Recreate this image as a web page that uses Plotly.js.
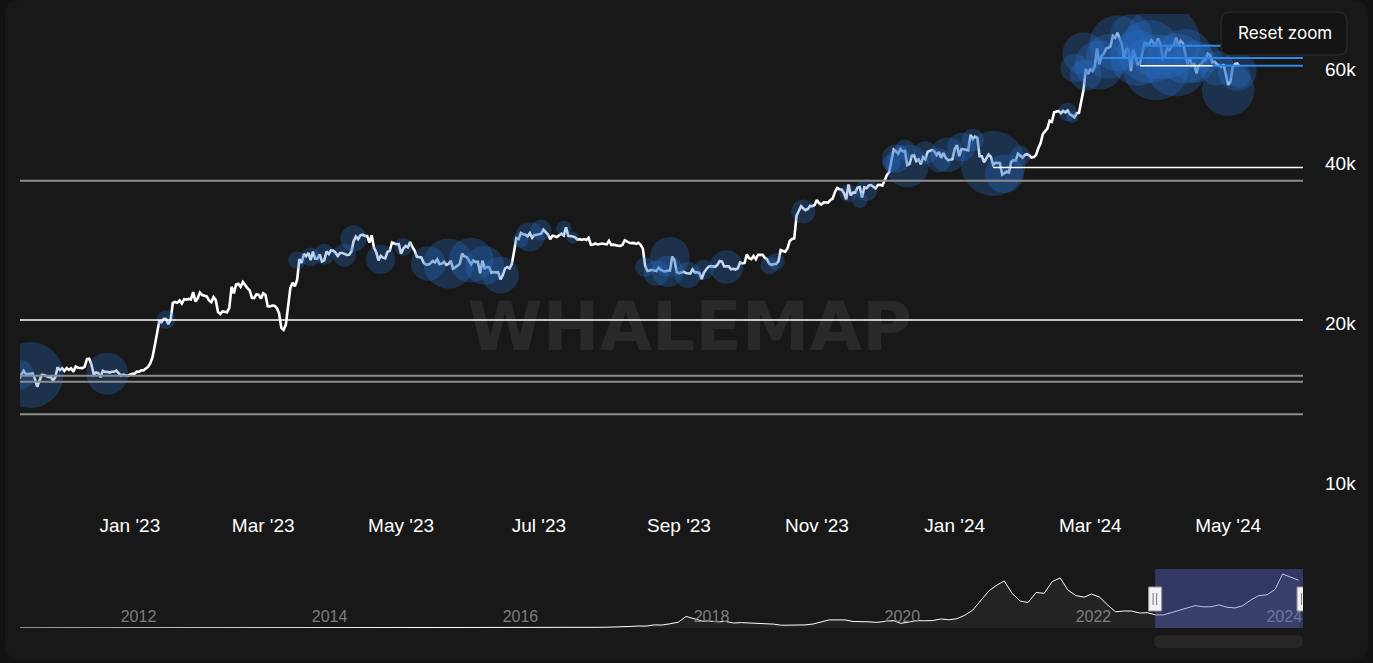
<!DOCTYPE html>
<html><head><meta charset="utf-8">
<script src="https://cdn.plot.ly/plotly-3.0.1.min.js"></script>
<style>html,body{margin:0;padding:0;background:#121212;overflow:hidden}#chart{width:1373px;height:663px}</style>
</head><body><div id="chart"></div>
<script>
// ---- Daily BTC price (thousand USD), first value = 2022-11-12 ----
const priceStart = '2022-11-12';
const nov22 = [16.80,16.33,16.62,16.90,16.66,16.69,16.70,16.71,16.29,15.78,16.19,16.61,16.60,16.52,16.46,16.44,16.22,16.44,17.17];
const dec22 = [16.97,17.09,16.89,17.11,16.97,17.09,16.84,17.22,17.13,17.13,17.10,17.21,17.78,17.81,17.36,16.63,16.78,16.74,16.44,16.90,16.82,16.83,16.78,16.84,16.84,16.92,16.70,16.55,16.63,16.60,16.55];
const jan23 = [16.62,16.69,16.68,16.85,16.83,16.95,16.94,17.09,17.19,17.45,17.94,18.85,19.93,20.95,20.87,21.17,21.16,20.69,21.08,22.68,22.78,22.71,22.93,22.63,23.06,23.01,23.08,23.03,23.77,22.84,23.14];
const feb23 = [23.72,23.47,23.43,23.33,22.94,22.76,23.26,22.96,21.80,21.63,21.86,21.79,21.79,22.20,24.33,23.64,24.57,24.64,24.33,24.83,24.44,24.19,23.95,23.20,23.17,23.55,23.49,23.13];
const mar23 = [23.65,23.47,22.36,22.35,22.43,22.41,22.20,21.70,20.36,20.19,20.63,22.16,24.20,24.75,24.38,25.05,27.42,26.97,28.04,27.77,28.18,27.30,28.33,27.49,27.49,27.99,27.14,27.27,28.35,28.03,28.48];
const apr23 = [28.45,28.20,27.80,28.17,28.17,28.04,27.92,27.95,28.33,29.65,30.24,29.90,30.40,30.49,30.32,30.32,29.45,30.40,28.82,28.25,27.28,27.82,27.60,27.52,28.31,28.42,29.47,29.34,29.25,29.27];
const may23 = [28.09,28.68,29.03,28.85,29.53,28.90,28.45,27.70,27.65,27.63,27.00,26.80,26.78,26.93,27.20,27.03,27.40,26.83,26.89,27.10,26.75,26.85,27.23,26.33,26.47,26.72,26.87,28.09,27.75,27.70,27.22];
const jun23 = [26.82,27.25,27.07,27.12,25.76,27.24,26.35,26.50,26.48,25.84,25.94,25.90,25.92,25.12,25.58,26.33,26.51,26.34,26.85,28.33,30.03,29.91,30.70,30.55,30.47,30.27,30.70,30.08,30.45,30.48];
const jul23 = [30.59,30.62,31.16,30.77,30.51,29.90,30.35,30.29,30.17,30.41,30.62,30.39,31.48,30.33,30.30,30.25,30.14,29.86,29.91,29.80,29.91,29.80,30.08,29.18,29.23,29.35,29.22,29.31,29.35,29.28,29.23];
const aug23 = [29.70,29.18,29.20,29.08,29.06,29.05,29.18,29.77,29.58,29.44,29.40,29.42,29.30,29.43,29.17,28.70,26.66,26.05,26.10,26.19,26.12,26.04,26.43,26.16,26.05,26.00,26.09,26.10,27.73,27.30,25.93];
const sep23 = [25.80,25.87,25.97,25.83,25.78,25.75,26.24,25.90,25.90,25.84,25.16,25.84,26.23,26.53,26.60,26.57,26.53,26.76,27.20,27.13,26.57,26.58,26.58,26.25,26.30,26.22,26.35,27.02,26.91,26.97];
const oct23 = [27.98,27.53,27.43,27.79,27.41,27.95,27.97,27.94,27.58,27.39,26.87,26.76,26.86,26.86,27.16,28.52,28.42,28.33,28.72,29.68,29.92,29.99,33.09,33.90,34.50,34.15,33.90,34.09,34.54,34.50,34.67];
const nov23 = [35.44,34.94,34.73,35.08,35.05,35.04,35.43,35.65,36.69,37.31,37.13,37.06,36.50,35.54,37.88,36.15,36.60,36.58,37.39,37.47,35.81,37.43,37.29,37.72,37.80,37.48,37.25,37.83,37.86,37.71];
const dec23 = [38.69,39.47,39.98,41.98,44.08,43.77,43.29,44.17,43.72,43.79,41.24,41.45,42.89,43.02,41.94,42.26,41.36,42.66,42.26,43.65,43.86,43.99,43.74,43.02,43.61,42.52,43.44,42.58,42.07,42.14,42.28];
const jan24 = [44.18,44.96,42.85,44.18,44.16,43.97,43.93,46.97,46.12,46.63,46.37,42.85,42.84,41.73,42.50,43.15,42.74,41.26,41.62,41.66,41.58,39.57,39.90,40.08,39.93,41.82,42.12,42.03,43.30,42.94,42.58];
const feb24 = [43.08,43.20,43.00,42.58,42.66,43.08,44.32,45.30,47.15,47.77,48.29,49.96,49.70,51.80,51.90,52.10,51.60,52.10,51.80,52.20,51.30,51.10,50.70,51.60,51.70,54.50,57.10,62.50,61.20];
const mar24 = [62.40,62.00,63.20,68.30,63.80,66.10,66.90,68.30,68.50,69.00,72.10,71.50,73.10,71.40,69.50,65.30,68.40,67.60,61.90,67.90,65.50,63.80,64.00,67.20,70.00,69.90,69.50,70.80,69.90,69.60,71.30];
const apr24 = [69.70,65.50,66.00,68.50,67.80,68.90,69.40,71.60,69.10,70.60,70.00,67.10,63.80,65.70,63.40,63.80,61.30,63.50,63.80,64.90,64.90,66.80,66.40,64.30,64.50,63.80,63.40,63.10,63.80,60.60];
const may24 = [58.30,59.10,62.90,63.90,64.00,63.20];

// ---- Whale bubbles: date, price (k USD), volume ----
const bubbleDates = ['2022-11-13','2022-11-18','2022-12-22','2023-01-17','2023-03-16','2023-03-22','2023-03-28','2023-04-06','2023-04-10','2023-04-22','2023-05-02','2023-05-13','2023-05-22','2023-06-01','2023-06-07','2023-06-14','2023-06-23','2023-06-27','2023-07-02','2023-07-12','2023-07-16','2023-08-17','2023-08-22','2023-08-28','2023-08-27','2023-09-05','2023-09-12','2023-09-22','2023-10-11','2023-10-14','2023-10-26','2023-11-15','2023-11-20','2023-11-23','2023-12-04','2023-12-06','2023-12-11','2023-12-10','2023-12-19','2023-12-25','2023-12-29','2024-01-04','2024-01-09','2024-01-18','2024-01-23','2024-01-30','2024-02-20','2024-02-22',
  '2024-02-23','2024-02-27','2024-02-28','2024-03-05','2024-03-09','2024-03-13','2024-03-19','2024-03-22','2024-03-27','2024-03-30','2024-04-02','2024-04-08','2024-04-12','2024-04-16','2024-04-22','2024-04-26','2024-05-01','2024-05-05','2024-05-06'];
const bubblePrices = [16.6,16.6,16.7,21.1,27.3,27.7,28.0,27.9,30.0,27.4,28.9,26.9,26.9,27.3,26.7,25.6,29.8,30.2,31.1,31.3,30.1,26.5,25.8,27.7,26.0,25.6,26.2,26.5,26.7,27.1,33.7,36.5,35.4,37.0,41.6,42.4,41.1,44.0,43.5,42.1,43.1,44.6,46.0,41.5,39.7,42.9,51.9,50.8,
  62.7,66.9,60.9,63.6,66.0,69.9,72.4,65.5,67.4,63.0,70.3,63.6,66.0,64.5,65.5,62.7,57.1,61.8,60.6];
const bubbleVolumes = [900,4350,1760,350,320,350,440,530,680,860,320,1200,2500,2000,1500,1340,240,860,440,240,150,400,640,1580,990,680,400,1120,320,290,580,320,240,480,320,800,1850,440,530,580,1200,800,480,4200,1500,400,350,150,
  800,1760,990,2430,2000,3090,1760,3090,3960,4400,5700,3960,3000,1760,800,1200,2750,1500,530];

// ---- Horizontal levels ----
const levelPrices = [69.1, 65.55, 63.4, 63.4, 40.8, 38.5, 21.07, 16.55, 16.12, 14.0];
const levelFrom   = ['2024-03-25','2024-03-06','2024-04-24','2024-03-23','2024-01-18',null,null,null,null,null];
const levelTo     = [null,null,null,'2024-04-24',null,null,null,null,null,null];
const levelKinds  = ['blue','blue','blue','white','white','gray','white','gray','gray','gray'];

// ---- Navigator: monthly BTC price (USD), first = 2010-12 ----
const navStart = [2010, 11];
const nav2010 = [0.25];
const nav2011 = [0.4,0.9,0.85,1.5,7,17,14,10,5,3.5,2.8,3.5];
const nav2012 = [6,5,5,5,5,6,8,10,11,11.5,11,13];
const nav2013 = [15,25,60,140,120,110,85,110,125,160,600,800];
const nav2014 = [850,650,600,450,500,620,620,520,450,370,380,340];
const nav2015 = [220,240,270,230,240,245,290,250,235,270,350,430];
const nav2016 = [400,400,410,430,480,700,650,580,610,660,740,850];
const nav2017 = [900,1050,1100,1250,2000,2600,2500,4000,3900,5500,7500,15000];
const nav2018 = [11500,9000,9000,8000,8500,6500,7000,6500,6500,6400,5000,3600];
const nav2019 = [3600,3700,4000,5200,8000,10500,10500,10500,8500,8500,8000,7300];
const nav2020 = [8500,9800,6000,7500,9500,9400,9600,11700,10700,12000,16500,23000];
const nav2021 = [36000,48000,55000,61000,45000,35000,33000,46000,45000,60000,65000,49000];
const nav2022 = [42000,40000,44000,40000,30000,21000,22000,22000,19500,19800,17000,17000];
const nav2023 = [20000,23000,25000,29000,27500,27500,30000,27000,26000,29000,36500,42000];
const nav2024 = [43000,50000,70000,66000,62000];

// ---- axis tick labels ----
const yTickVals = [10, 20, 40, 60];
const yTickText = ['10k', '20k', '40k', '60k'];

// ================= build =================
const W = 1373, H = 663;
const prices = [].concat(nov22,dec22,jan23,feb23,mar23,apr23,may23,jun23,jul23,aug23,sep23,oct23,nov23,dec23,jan24,feb24,mar24,apr24,may24);
const t0 = Date.parse(priceStart + 'T00:00:00Z');
const priceDates = prices.map((_, i) => new Date(t0 + i * 86400000).toISOString().slice(0, 10));

const navVals = [].concat(nav2010,nav2011,nav2012,nav2013,nav2014,nav2015,nav2016,nav2017,nav2018,nav2019,nav2020,nav2021,nav2022,nav2023,nav2024);
const navDates = navVals.map((_, i) => new Date(Date.UTC(navStart[0], navStart[1] + i, 15)).toISOString().slice(0, 10));

const mainRange = ['2022-11-13 08:53', '2024-06-03 03:07'];
const navRange = ['2010-12-24', '2024-06-01'];

// pixel -> paper helpers
const px = v => v / W, py = v => 1 - v / H;
function rr(x0, y0, x1, y1, r) {
  const X = v => px(v).toFixed(5), Y = v => py(v).toFixed(5);
  return `M${X(x0+r)},${Y(y0)} L${X(x1-r)},${Y(y0)} Q${X(x1)},${Y(y0)} ${X(x1)},${Y(y0+r)} L${X(x1)},${Y(y1-r)} Q${X(x1)},${Y(y1)} ${X(x1-r)},${Y(y1)} L${X(x0+r)},${Y(y1)} Q${X(x0)},${Y(y1)} ${X(x0)},${Y(y1-r)} L${X(x0)},${Y(y0+r)} Q${X(x0)},${Y(y0)} ${X(x0+r)},${Y(y0)} Z`;
}

const xDom = [px(20), px(1303)];
const mainDom = [py(500), py(14)];
const navDom = [py(628), py(569)];

const levelStyle = {
  gray:  {color: '#8c8c8c', width: 2},
  white: {color: '#ffffff', width: 1.5},
  blue:  {color: '#2f87e6', width: 2}
};

const traces = [];
// watermark on base axes (below everything else)
traces.push({
  type: 'scatter', mode: 'text', x: [0.522], y: [0.344], text: ['WHALEMAP'],
  textposition: 'middle center',
  textfont: {family: 'DejaVu Sans', size: 68, color: '#292929', weight: 'bold'},
  xaxis: 'x', yaxis: 'y', hoverinfo: 'skip', showlegend: false
});
// price line
traces.push({
  type: 'scatter', mode: 'lines', x: priceDates, y: prices,
  line: {color: '#ffffff', width: 2.6}, xaxis: 'x2', yaxis: 'y2', hoverinfo: 'skip', showlegend: false
});
// whale bubbles
traces.push({
  type: 'scatter', mode: 'markers', x: bubbleDates, y: bubblePrices,
  marker: {size: bubbleVolumes, sizemode: 'area', sizeref: 2, color: 'rgba(40,112,205,0.42)', line: {width: 0}},
  xaxis: 'x2', yaxis: 'y2', hoverinfo: 'skip', showlegend: false
});
// levels
levelPrices.forEach((p, i) => {
  const st = levelStyle[levelKinds[i]];
  traces.push({
    type: 'scatter', mode: 'lines',
    x: [levelFrom[i] || mainRange[0], levelTo[i] || mainRange[1]], y: [p, p],
    line: {color: st.color, width: st.width}, xaxis: 'x2', yaxis: 'y2', hoverinfo: 'skip', showlegend: false
  });
});
// navigator series
traces.push({
  type: 'scatter', mode: 'lines', x: navDates, y: navVals, fill: 'tozeroy',
  fillcolor: 'rgba(255,255,255,0.05)', line: {color: '#ffffff', width: 1},
  xaxis: 'x3', yaxis: 'y3', hoverinfo: 'skip', showlegend: false
});

const shapes = [
  {type: 'path', xref: 'paper', yref: 'paper', layer: 'below', path: rr(5, 0, 1368, 660, 16), fillcolor: '#181818', line: {width: 0}},
  // navigator mask
  {type: 'rect', xref: 'x3', yref: 'paper', x0: mainRange[0], x1: mainRange[1], y0: navDom[0], y1: navDom[1], fillcolor: 'rgba(92,104,209,0.4)', line: {width: 0}, layer: 'above'},
  // scrollbar
  {type: 'path', xref: 'paper', yref: 'paper', path: rr(1154, 635, 1303, 648, 6.5), fillcolor: '#262626', line: {width: 0}, layer: 'above'},
  // reset zoom button
  {type: 'path', xref: 'paper', yref: 'paper', path: rr(1221, 12, 1347, 55, 9), fillcolor: '#141414', line: {color: '#2e2e2e', width: 1}, layer: 'above'}
];
// navigator handles
[mainRange[0], mainRange[1]].forEach(anchor => {
  shapes.push({type: 'rect', xref: 'x3', xsizemode: 'pixel', xanchor: anchor, x0: -6.5, x1: 6.5,
    yref: 'paper', y0: py(611), y1: py(587), fillcolor: '#f2f2f2', line: {color: '#999999', width: 1}, layer: 'above'});
  [-2, 1.5].forEach(o => shapes.push({type: 'line', xref: 'x3', xsizemode: 'pixel', xanchor: anchor, x0: o, x1: o,
    yref: 'paper', y0: py(605), y1: py(593), line: {color: '#777777', width: 1}, layer: 'above'}));
});

const axFont = {family: 'Liberation Sans, Arial, sans-serif', size: 19, color: '#ffffff'};
const layout = {
  width: W, height: H, margin: {l: 0, r: 0, t: 0, b: 0, pad: 0},
  paper_bgcolor: '#121212', plot_bgcolor: 'rgba(0,0,0,0)', showlegend: false, hovermode: false,
  xaxis: {domain: xDom, range: [0, 1], visible: false, fixedrange: true},
  yaxis: {domain: mainDom, range: [0, 1], visible: false, fixedrange: true},
  xaxis2: {overlaying: 'x', anchor: 'y2', type: 'date', range: mainRange, tickmode: 'linear', tick0: '2023-01-01', dtick: 'M2',
    tickformat: "%b '%y", tickfont: axFont, showgrid: false, zeroline: false, showline: false, ticks: '', ticklabelstandoff: 12},
  yaxis2: {overlaying: 'y', anchor: 'x2', side: 'right', type: 'log', range: [0.98495, 1.89934], tickmode: 'array',
    tickvals: yTickVals, ticktext: yTickText, ticklabelshift: -9, ticklabelstandoff: 21, tickfont: axFont,
    showgrid: false, zeroline: false, showline: false, ticks: ''},
  xaxis3: {domain: xDom, anchor: 'y3', type: 'date', range: navRange, tickmode: 'linear', tick0: '2012-01-01', dtick: 'M24',
    tickformat: '%Y', ticklabelposition: 'inside', ticklabeloverflow: 'allow', ticklabelshift: 21,
    tickfont: {family: 'Liberation Sans, Arial, sans-serif', size: 16, color: '#7d7d7d'},
    showgrid: false, zeroline: false, showline: false, ticks: ''},
  yaxis3: {domain: navDom, anchor: 'x3', range: [0, 76500], visible: false, fixedrange: true},
  shapes: shapes,
  annotations: [{xref: 'paper', yref: 'paper', x: px(1284.5), y: py(33), text: 'Reset zoom', showarrow: false,
    xanchor: 'center', yanchor: 'middle', font: {family: 'Inter, sans-serif', size: 17, color: '#ffffff'}}]
};

Plotly.newPlot('chart', traces, layout, {displayModeBar: false, staticPlot: true});
</script></body></html>
